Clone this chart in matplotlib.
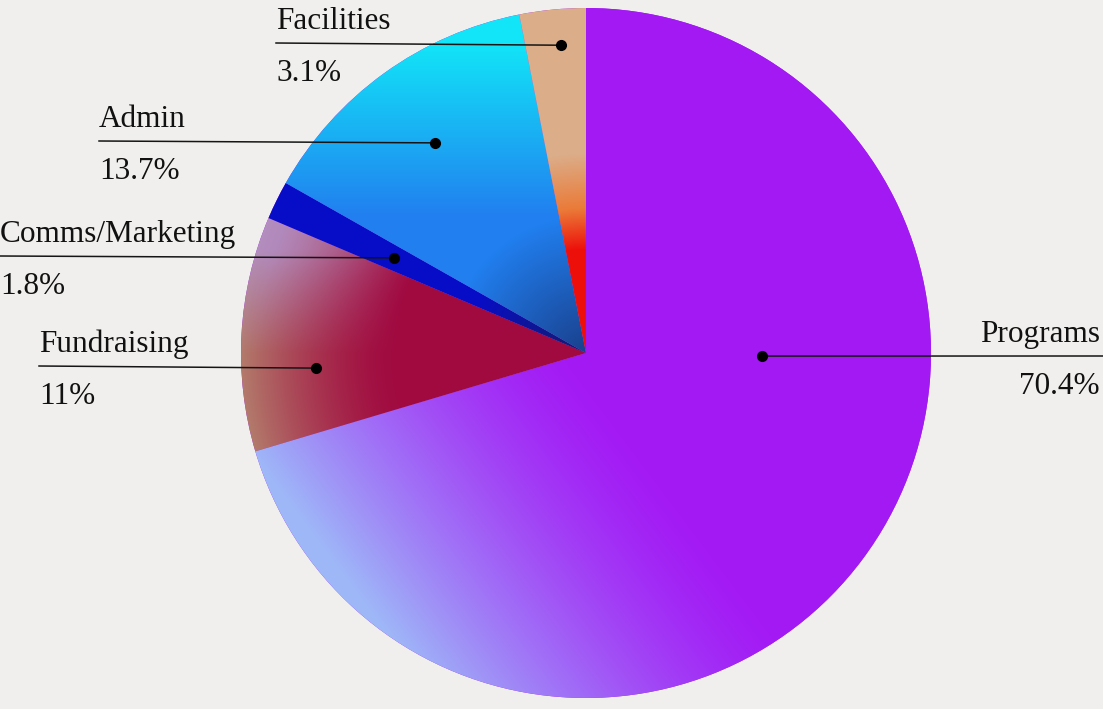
import numpy as np
import matplotlib
matplotlib.use("Agg")
import matplotlib.pyplot as plt

# data
categories = ["Programs", "Fundraising", "Comms/Marketing", "Admin", "Facilities"]
shares = [70.4, 11, 1.8, 13.7, 3.1]

W, H = 1103, 709
bg = "#f0efed"
cx, cy, R = 586, H - 353, 345

fig = plt.figure(figsize=(W / 100, H / 100), dpi=100, facecolor=bg)
ax = fig.add_axes([0, 0, 1, 1])
ax.set_facecolor(bg)

wedges, _ = ax.pie(shares, startangle=90, counterclock=False,
                   center=(cx, cy), radius=R, colors=["#a31ff5"] * 5,
                   wedgeprops=dict(linewidth=0))
ax.set_xlim(0, W)
ax.set_ylim(0, H)
ax.set_aspect("equal")
ax.axis("off")

# gradient fill per wedge
n = 700
g = np.linspace(-1, 1, n)
u, v = np.meshgrid(g, g)
rho = np.hypot(u, v)


def mix(a, b, w):
    a = np.asarray(a, dtype=float)
    if a.ndim == 1:
        a = a[None, None, :]
    b = np.array(b)[None, None, :]
    w = np.clip(w, 0, 1)[..., None]
    return a * (1 - w) + b * w


purple = (0.64, 0.10, 0.96)
lav = (0.62, 0.72, 0.97)
crimson = (0.63, 0.04, 0.25)
tan = (0.70, 0.48, 0.42)
navy = (0.10, 0.25, 0.55)


def grad_programs():
    proj = -(u * 0.8 + v * 0.6)
    w = np.clip((proj - 0.05) / 0.9, 0, 1) ** 1.4
    return mix(purple, lav, w)


def grad_fund():
    img = mix(crimson, tan, np.clip((rho - 0.55) / 0.45, 0, 1) ** 1.5)
    w = np.clip(v / 0.3, 0, 1) * np.clip((rho - 0.55) / 0.4, 0, 1) * 0.75
    return mix(img, (0.70, 0.58, 0.85), w)


def grad_comms():
    return mix((0.03, 0.05, 0.78), (0.08, 0.12, 0.40), 1 - rho / 0.35)


def grad_admin():
    img = mix((0.13, 0.50, 0.94), (0.07, 0.90, 0.97), (v - 0.4) / 0.5)
    return mix(img, navy, 1 - rho / 0.4)


def grad_fac():
    img = mix((0.93, 0.06, 0.04), (0.92, 0.48, 0.22), (rho - 0.30) / 0.12)
    return mix(img, (0.86, 0.68, 0.54), (rho - 0.42) / 0.16)


grads = [grad_programs, grad_fund, grad_comms, grad_admin, grad_fac]
for wdg, fn in zip(wedges, grads):
    im = ax.imshow(fn(), extent=(cx - R, cx + R, cy - R, cy + R), origin="lower",
                   interpolation="bilinear", zorder=2)
    im.set_clip_path(wdg)

# labels: line y (px from top), text x, dot angle (deg), dot radius fraction
label_y = [356, 366, 256, 141, 43]
label_x = [1100, 39, 0, 99, 276]
dot_ang = [-1.0, 183.2, 153.6, 125.7, 94.6]
dot_frac = [0.51, 0.785, 0.62, 0.75, 0.895]

for i, (cat, val) in enumerate(zip(categories, shares)):
    t = np.deg2rad(dot_ang[i])
    dx = cx + dot_frac[i] * R * np.cos(t)
    dy = cy + dot_frac[i] * R * np.sin(t)
    ly = H - label_y[i]
    if i == 0:
        ax.plot([dx, W], [dy, ly], color="#151515", lw=1.1, zorder=5)
        ha = "right"
    else:
        ax.plot([label_x[i], dx], [ly, dy], color="#151515", lw=1.1, zorder=5)
        ha = "left"
    ax.plot(dx, dy, "o", color="black", ms=7, zorder=6)
    ax.text(label_x[i], ly + 14, cat, ha=ha, va="baseline", fontsize=22.5,
            family="Liberation Serif", color="#111111")
    ax.text(label_x[i], ly - 38, "{:g}%".format(val), ha=ha, va="baseline",
            fontsize=22.5, family="Liberation Serif", color="#111111")

fig.savefig("out.png", dpi=100, facecolor=bg)
